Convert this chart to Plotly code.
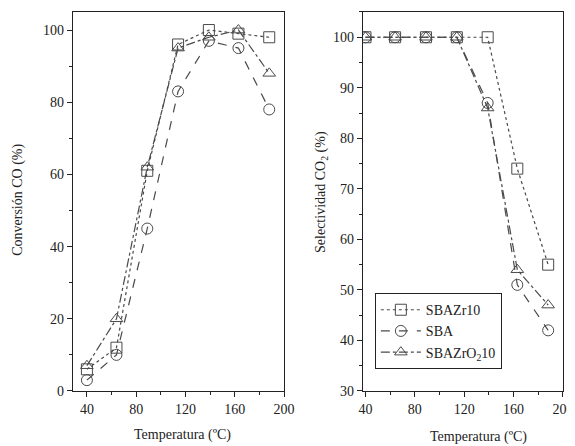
import plotly.graph_objects as go

temps = [40, 64, 89, 114, 139, 163, 188]
series_names = ["SBAZr10", "SBA", "SBAZrO<sub>2</sub>10"]
conv_sbazr10 = [6, 12, 61, 96, 100, 99, 98]
conv_sba = [3, 10, 45, 83, 97, 95, 78]
conv_sbazro2 = [7, 20, 62, 95, 98, 100, 88]
sel_sbazr10 = [100, 100, 100, 100, 100, 74, 55]
sel_sba = [100, 100, 100, 100, 87, 51, 42]
sel_sbazro2 = [100, 100, 100, 100, 86, 54, 47]

symbols = ["square-open", "circle-open", "triangle-up-open"]
dashes = ["dot", "dash", "dashdot"]
color = "#4a4a4a"

fig = go.Figure()
conv = [conv_sbazr10, conv_sba, conv_sbazro2]
sel = [sel_sbazr10, sel_sba, sel_sbazro2]
for i in range(3):
    fig.add_trace(go.Scatter(x=temps, y=conv[i], mode="lines+markers", name=series_names[i],
                             showlegend=False, xaxis="x", yaxis="y",
                             line=dict(color=color, width=1.2, dash=dashes[i]),
                             marker=dict(symbol=symbols[i], size=11, color=color, line=dict(width=1))))
for i in range(3):
    fig.add_trace(go.Scatter(x=temps, y=sel[i], mode="lines+markers", name=series_names[i],
                             showlegend=True, xaxis="x2", yaxis="y2",
                             line=dict(color=color, width=1.2, dash=dashes[i]),
                             marker=dict(symbol=symbols[i], size=11, color=color, line=dict(width=1))))

font = dict(family="Liberation Serif", size=14, color="#222")
axcommon = dict(showgrid=False, zeroline=False, showline=True, linecolor="#222", linewidth=1.3,
                mirror=True, ticks="outside", ticklen=5, tickwidth=1.2, tickcolor="#222",
                tickfont=font, automargin=False)

# page body has an 8px margin: figure is sized to the visible area
W, H = 567, 438

fig.update_layout(
    width=W, height=H,
    margin=dict(l=0, r=0, t=0, b=0),
    paper_bgcolor="white", plot_bgcolor="white",
    font=font,
    xaxis=dict(domain=[0.1146, 0.4868], range=[28.7, 200], tickvals=[40, 80, 120, 160, 200],
               minor=dict(dtick=20, ticks="outside", ticklen=3, tickcolor="#222"), anchor="y", **axcommon),
    yaxis=dict(domain=[0.1256, 0.9909], range=[0, 105], tickvals=[0, 20, 40, 60, 80, 100],
               minor=dict(dtick=10, ticks="outside", ticklen=3, tickcolor="#222"), anchor="x", **axcommon),
    xaxis2=dict(domain=[0.6261, 0.9788], range=[38, 200], tickvals=[40, 80, 120, 160, 200],
                minor=dict(dtick=20, ticks="outside", ticklen=3, tickcolor="#222"), anchor="y2", **axcommon),
    yaxis2=dict(domain=[0.1256, 0.9909], range=[30, 105], tickvals=[30, 40, 50, 60, 70, 80, 90, 100],
                minor=dict(dtick=5, ticks="outside", ticklen=3, tickcolor="#222"), anchor="x2", **axcommon),
    legend=dict(x=0.647, y=0.349, xanchor="left", yanchor="top", bordercolor="#222", borderwidth=1,
                bgcolor="white", font=dict(family="Liberation Serif", size=14, color="#222"),
                itemwidth=40),
    annotations=[
        dict(text="Conversión CO (%)", x=0.0176, y=0.562, xref="paper", yref="paper", textangle=-90,
             xanchor="center", yanchor="middle", showarrow=False, font=font),
        dict(text="Selectividad CO<sub>2</sub> (%)", x=0.5538, y=0.58, xref="paper", yref="paper", textangle=-90,
             xanchor="center", yanchor="middle", showarrow=False, font=font),
        dict(text="Temperatura (ºC)", x=0.307, y=0.025, xref="paper", yref="paper",
             xanchor="center", yanchor="middle", showarrow=False, font=font),
        dict(text="Temperatura (ºC)", x=0.829, y=0.021, xref="paper", yref="paper",
             xanchor="center", yanchor="middle", showarrow=False, font=font),
    ],
)

fig.write_html("out.html")
